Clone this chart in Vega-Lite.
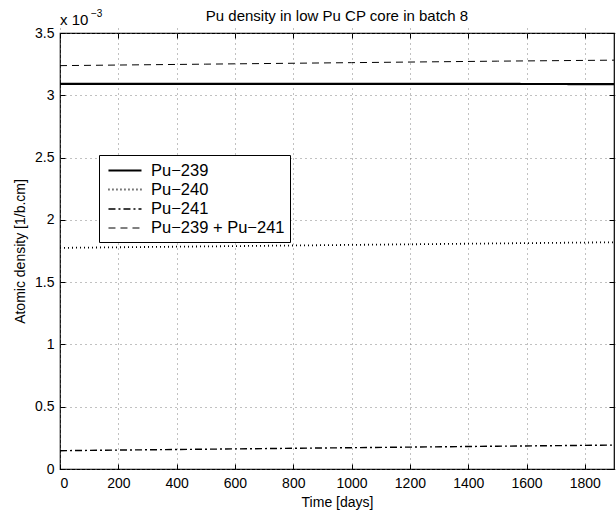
{
  "$schema": "https://vega.github.io/schema/vega-lite/v6.json",
  "width": 554,
  "height": 436,
  "autosize": {"type": "none"},
  "padding": {"left": 60, "top": 33, "right": 2, "bottom": 45},
  "background": "white",
  "config": {
    "font": "Liberation Sans",
    "view": {"stroke": "black", "strokeWidth": 1.2},
    "axis": {
      "labelFont": "Liberation Sans",
      "titleFont": "Liberation Sans",
      "labelFontSize": 14,
      "titleFontSize": 14,
      "titleFontWeight": "normal",
      "labelColor": "black",
      "titleColor": "black",
      "domain": false,
      "tickColor": "black",
      "tickSize": 5,
      "offset": -5,
      "gridColor": "#777",
      "gridDash": [1, 4],
      "gridOpacity": 0.9
    }
  },
  "title": {
    "text": "Pu density in low Pu CP core in batch 8",
    "font": "Liberation Sans",
    "fontSize": 15,
    "fontWeight": "normal",
    "color": "black",
    "offset": -15,
    "frame": "group"
  },
  "data": {
    "values": [
      {"series": "Pu\u2212239", "day": 0, "density": 0.003091},
      {"series": "Pu\u2212239", "day": 500, "density": 0.003091},
      {"series": "Pu\u2212239", "day": 1000, "density": 0.003091},
      {"series": "Pu\u2212239", "day": 1500, "density": 0.003091},
      {"series": "Pu\u2212239", "day": 1900, "density": 0.003090},
      {"series": "Pu\u2212240", "day": 0, "density": 0.001775},
      {"series": "Pu\u2212240", "day": 500, "density": 0.001787},
      {"series": "Pu\u2212240", "day": 1000, "density": 0.001799},
      {"series": "Pu\u2212240", "day": 1500, "density": 0.001811},
      {"series": "Pu\u2212240", "day": 1900, "density": 0.001820},
      {"series": "Pu\u2212241", "day": 0, "density": 0.000147},
      {"series": "Pu\u2212241", "day": 500, "density": 0.000159},
      {"series": "Pu\u2212241", "day": 1000, "density": 0.000171},
      {"series": "Pu\u2212241", "day": 1500, "density": 0.000183},
      {"series": "Pu\u2212241", "day": 1900, "density": 0.000192},
      {"series": "Pu\u2212239 + Pu\u2212241", "day": 0, "density": 0.003238},
      {"series": "Pu\u2212239 + Pu\u2212241", "day": 500, "density": 0.003250},
      {"series": "Pu\u2212239 + Pu\u2212241", "day": 1000, "density": 0.003262},
      {"series": "Pu\u2212239 + Pu\u2212241", "day": 1500, "density": 0.003274},
      {"series": "Pu\u2212239 + Pu\u2212241", "day": 1900, "density": 0.003282}
    ]
  },
  "resolve": {"axis": {"x": "independent", "y": "independent"}},
  "layer": [
    {
      "mark": {"type": "line", "color": "black", "clip": true},
      "encoding": {
        "x": {
          "field": "day", "type": "quantitative",
          "scale": {"domain": [0, 1900], "nice": false, "zero": false},
          "axis": {"title": "Time [days]", "values": [0, 200, 400, 600, 800, 1000, 1200, 1400, 1600, 1800], "format": "d", "grid": true, "labelPadding": 7, "titlePadding": 5}
        },
        "y": {
          "field": "density", "type": "quantitative",
          "scale": {"domain": [0, 0.0035], "nice": false},
          "axis": {"title": "Atomic density [1/b.cm]", "values": [0, 0.0005, 0.001, 0.0015, 0.002, 0.0025, 0.003, 0.0035], "labelExpr": "format(datum.value*1000, '~g')", "grid": true, "labelPadding": 6, "titlePadding": 7}
        },
        "strokeDash": {
          "field": "series", "type": "nominal",
          "scale": {
            "domain": ["Pu\u2212239", "Pu\u2212240", "Pu\u2212241", "Pu\u2212239 + Pu\u2212241"],
            "range": [[1, 0], [1, 3], [7, 3, 2, 3], [7, 5]]
          },
          "legend": {
            "title": null,
            "orient": "none",
            "legendX": 39,
            "legendY": 122,
            "symbolType": "M-0.67,0H3",
            "symbolSize": 324,
            "symbolStrokeColor": "black",
            "labelFont": "Liberation Sans",
            "labelFontSize": 16.5,
            "labelColor": "black",
            "labelOffset": 26,
            "strokeColor": "black",
            "fillColor": "white",
            "padding": 5,
            "rowPadding": 0.5
          }
        },
        "strokeWidth": {
          "field": "series", "type": "nominal",
          "scale": {
            "domain": ["Pu\u2212239", "Pu\u2212240", "Pu\u2212241", "Pu\u2212239 + Pu\u2212241"],
            "range": [2.2, 1, 2, 2.2]
          },
          "legend": null
        }
      }
    },
    {
      "data": {"values": [{"day": 0, "density": 0}]},
      "mark": {"type": "point", "opacity": 0},
      "encoding": {
        "x": {"field": "day", "type": "quantitative", "axis": {"orient": "top", "labels": false, "title": null, "grid": false, "values": [0, 200, 400, 600, 800, 1000, 1200, 1400, 1600, 1800]}},
        "y": {"field": "density", "type": "quantitative", "axis": {"orient": "right", "labels": false, "title": null, "grid": false, "values": [0, 0.0005, 0.001, 0.0015, 0.002, 0.0025, 0.003, 0.0035]}}
      }
    },
    {
      "data": {"values": [{"day": 0, "density": 0.0035, "label": "x 10"}]},
      "mark": {"type": "text", "align": "left", "baseline": "bottom", "fontSize": 15, "font": "Liberation Sans", "fontWeight": "normal", "color": "black", "dx": 0, "dy": -5},
      "encoding": {
        "x": {"field": "day", "type": "quantitative", "axis": null},
        "y": {"field": "density", "type": "quantitative", "axis": null},
        "text": {"field": "label"}
      }
    },
    {
      "data": {"values": [{"day": 0, "density": 0.0035, "label": "\u22123"}]},
      "mark": {"type": "text", "align": "left", "baseline": "bottom", "fontSize": 10, "font": "Liberation Sans", "fontWeight": "normal", "color": "black", "dx": 31, "dy": -14},
      "encoding": {
        "x": {"field": "day", "type": "quantitative", "axis": null},
        "y": {"field": "density", "type": "quantitative", "axis": null},
        "text": {"field": "label"}
      }
    }
  ]
}
